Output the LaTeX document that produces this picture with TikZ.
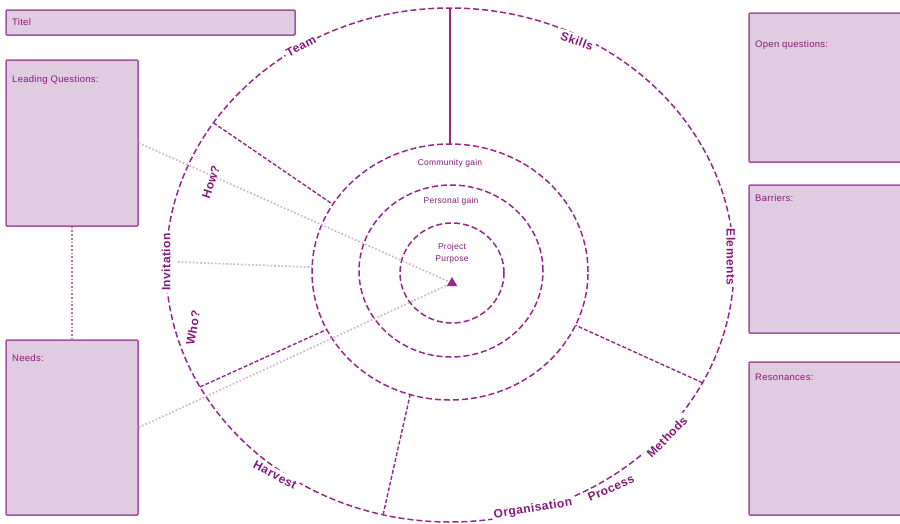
\documentclass[tikz,border=0pt]{standalone}
\usepackage{fontspec}
\setmainfont{Liberation Sans}
\newfontfamily\labelfont[LetterSpace=4]{Liberation Sans}
\newfontfamily\smallfont[LetterSpace=3]{Liberation Sans}
\usetikzlibrary{shapes.geometric}
\definecolor{mp}{RGB}{150,40,140}
\definecolor{mptext}{RGB}{135,25,125}
\definecolor{boxfill}{RGB}{224,204,224}
\definecolor{boxline}{RGB}{165,80,160}
\definecolor{faint}{RGB}{212,178,212}
\tikzset{
  ring/.style={ellipse, draw=mp, line width=1.5pt, inner sep=0pt, outer sep=0pt, dash pattern=on 6pt off 3pt},
  radial/.style={draw=mp, line width=1.4pt, dash pattern=on 4pt off 2pt},
  ringlabel/.style={fill=white, text=mptext, font=\labelfont\fontsize{12}{13}\selectfont\bfseries, inner sep=2pt},
  innertext/.style={text=mptext, font=\smallfont\fontsize{8.5}{12}\selectfont, align=center},
  infobox/.style={draw=boxline, fill=boxfill, line width=1.5pt, rounded corners=1pt, inner sep=0pt},
  boxtext/.style={text=mptext, font=\smallfont\fontsize{9.5}{11}\selectfont, inner sep=0pt},
  faintline/.style={draw=faint, line width=1.7pt, dotted},
}
\begin{document}
\begin{tikzpicture}[x=1pt,y=-1pt]
\useasboundingbox (0,0) rectangle (900,523);
\clip (0,0) rectangle (900,523);
% boxes
\node[infobox, minimum width=289, minimum height=25] (title) at (150.5,22.5) {};
\node[boxtext, anchor=west] (titletxt) at (12,22) {Titel};
\node[infobox, minimum width=132, minimum height=166] (lq) at (72,143) {};
\node[boxtext, anchor=west] (lqtxt) at (12,80) {Leading Questions:};
\node[infobox, minimum width=132, minimum height=175] (needs) at (72,427.5) {};
\node[boxtext, anchor=west] (needstxt) at (12,358) {Needs:};
\node[infobox, minimum width=160, minimum height=149] (openq) at (829,87.5) {};
\node[boxtext, anchor=west] (openqtxt) at (755,45) {Open questions:};
\node[infobox, minimum width=160, minimum height=148] (barr) at (829,259) {};
\node[boxtext, anchor=west] (barrtxt) at (755,198) {Barriers:};
\node[infobox, minimum width=160, minimum height=153] (reso) at (829,438.5) {};
\node[boxtext, anchor=west] (resotxt) at (755,377) {Resonances:};
% rings
\node[ring, minimum width=568, minimum height=514] (outer) at (450,265) {};
\node[ring, minimum width=276, minimum height=256] (comm) at (450,272) {};
\node[ring, minimum width=184, minimum height=172] (pers) at (451,271) {};
\node[ring, minimum width=104, minimum height=100] (core) at (452,273) {};
\node[innertext] (commtxt) at (450,163) {Community gain};
\node[innertext] (perstxt) at (451,201) {Personal gain};
\node[innertext] (coretxt) at (452,253) {Project\\Purpose};
\node[regular polygon, regular polygon sides=3, fill=mp, inner sep=0pt, minimum size=12pt] (tri) at (452,283) {};
% faint connectors
\coordinate (invstart) at (178,262);
\draw[faintline] (lq.east) -- (tri);
\draw[faintline] (needs.east) -- (tri);
\draw[faintline] (invstart) -- (comm.178);
\draw[faintline, draw=boxline!80] (lq.south) -- (needs.north);
% radial dividers
\draw[draw=mp, line width=1.6pt] (outer.90) -- (comm.90);
\draw[radial] (outer.149.7) -- (comm.150);
\draw[radial] (outer.206) -- (comm.205);
\draw[radial] (outer.255) -- (comm.252);
\draw[radial] (outer.335) -- (comm.337);
% ring labels
\node[ringlabel, rotate=28] (team) at (301,46) {Team};
\node[ringlabel, rotate=-20] (skills) at (577,41) {Skills};
\node[ringlabel, rotate=-90] (elem) at (731,257) {Elements};
\node[ringlabel, rotate=46] (meth) at (667,437) {Methods};
\node[ringlabel, rotate=24] (proc) at (611,488) {Process};
\node[ringlabel, rotate=9] (orga) at (533,509) {Organisation};
\node[ringlabel, rotate=-28] (harv) at (275,475) {Harvest};
\node[ringlabel, rotate=90] (invi) at (166,262) {Invitation};
\node[ringlabel, fill=none, rotate=72] (how) at (211,182) {How?};
\node[ringlabel, fill=none, rotate=80] (who) at (193,328) {Who?};
\end{tikzpicture}
\end{document}
